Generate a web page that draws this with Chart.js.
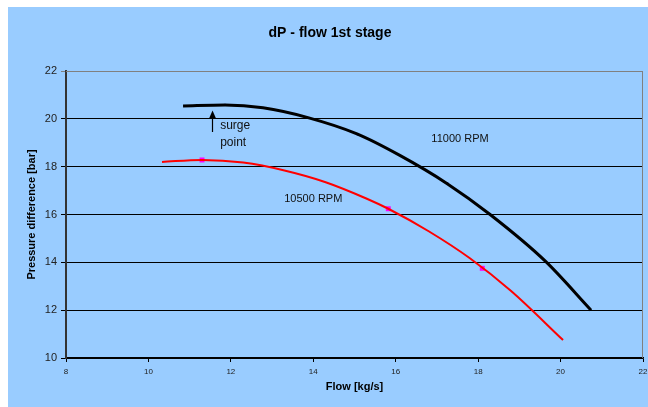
<!DOCTYPE html>
<html>
<head>
<meta charset="utf-8">
<script src="https://cdn.jsdelivr.net/npm/chart.js@4/dist/chart.umd.min.js"></script>
<style>
  html, body { margin: 0; padding: 0; background: #fff; overflow: hidden; }
  #wrap { width: 660px; height: 407px; }
</style>
</head>
<body>
<div id="wrap"><canvas id="chart" width="660" height="407"></canvas></div>
<script>
// данные
const flow11000 = [10.84, 11.86, 12.78, 13.87, 15.06, 16.1, 17.25, 18.29, 19.63, 20.74];
const dp11000 = [20.54, 20.58, 20.46, 20.05, 19.37, 18.47, 17.29, 16.0, 14.05, 12.0];
const markFlow11000 = [11.86, 15.08, 17.25];
const markDp11000 = [20.58, 19.35, 17.3];

const flow10500 = [10.33, 11.3, 12.3, 13.3, 14.3, 15.3, 15.82, 16.8, 17.8, 18.8, 20.06];
const dp10500 = [18.2, 18.28, 18.17, 17.84, 17.35, 16.66, 16.24, 15.3, 14.17, 12.8, 10.75];
const markFlow10500 = [11.3, 15.82, 18.1];
const markDp10500 = [18.28, 16.24, 13.75];

const xTicks = [8, 10, 12, 14, 16, 18, 20, 22];
const yTicks = [10, 12, 14, 16, 18, 20, 22];

const pts = (xs, ys) => xs.map((x, i) => ({ x: x, y: ys[i] }));
const FONT = '"Liberation Sans", Arial, sans-serif';

// фон, рамка, заголовок и подписи
const decor = {
  id: 'decor',
  beforeDraw(chart) {
    const c = chart.ctx;
    c.save();
    c.fillStyle = '#fff';
    c.fillRect(0, 0, chart.width, chart.height);
    c.fillStyle = '#99CCFF';
    c.fillRect(8, 7, chart.width - 8, chart.height - 7);
    c.restore();
  },
  afterDraw(chart) {
    const c = chart.ctx;
    const a = chart.chartArea;
    const sx = chart.scales.x, sy = chart.scales.y;
    c.save();
    c.strokeStyle = '#808080';
    c.lineWidth = 1;
    c.beginPath();
    c.moveTo(a.left, a.top + 0.5);
    c.lineTo(a.right - 0.5, a.top + 0.5);
    c.lineTo(a.right - 0.5, a.bottom);
    c.stroke();

    c.fillStyle = '#000';
    c.textAlign = 'center';
    c.textBaseline = 'middle';
    c.font = 'bold 14px ' + FONT;
    c.fillText('dP - flow 1st stage', 330, 33);

    c.fillStyle = '#111';
    c.font = '11px ' + FONT;
    c.fillText('11000 RPM', sx.getPixelForValue(17.56), sy.getPixelForValue(19.17));
    c.fillText('10500 RPM', sx.getPixelForValue(14.0), sy.getPixelForValue(16.63));
    c.textAlign = 'left';
    c.font = '12px ' + FONT;
    c.fillText('surge', sx.getPixelForValue(11.74), sy.getPixelForValue(19.71));
    c.fillText('point', sx.getPixelForValue(11.74), sy.getPixelForValue(19.0));

    // стрелка
    const ax = Math.round(sx.getPixelForValue(11.54)) + 0.5;
    const ay1 = sy.getPixelForValue(20.35);
    const ay2 = sy.getPixelForValue(19.45);
    c.strokeStyle = '#000';
    c.lineWidth = 1.2;
    c.beginPath();
    c.moveTo(ax, ay2);
    c.lineTo(ax, ay1 + 4);
    c.stroke();
    c.fillStyle = '#000';
    c.beginPath();
    c.moveTo(ax, ay1);
    c.lineTo(ax - 3.5, ay1 + 8);
    c.lineTo(ax + 3.5, ay1 + 8);
    c.closePath();
    c.fill();
    c.restore();
  }
};

const ctx = document.getElementById('chart').getContext('2d');
new Chart(ctx, {
  type: 'scatter',
  data: {
    datasets: [
      {
        label: '11000 RPM',
        data: pts(flow11000, dp11000),
        showLine: true,
        borderColor: '#000',
        borderWidth: 3,
        pointRadius: 0,
        cubicInterpolationMode: 'monotone'
      },
      {
        label: '10500 RPM',
        data: pts(flow10500, dp10500),
        showLine: true,
        borderColor: '#FF0000',
        borderWidth: 2,
        pointRadius: 0,
        cubicInterpolationMode: 'monotone'
      },
      {
        label: 'points 11000',
        data: pts(markFlow11000, markDp11000),
        pointStyle: 'rect',
        pointRadius: 1.5,
        backgroundColor: '#000080',
        borderColor: '#000080',
        borderWidth: 0
      },
      {
        label: 'points 10500',
        data: pts(markFlow10500, markDp10500),
        pointStyle: 'rect',
        pointRadius: 3.5,
        backgroundColor: '#FF00FF',
        borderColor: '#FF00FF',
        borderWidth: 0
      }
    ]
  },
  options: {
    responsive: false,
    animation: false,
    layout: { padding: { left: 0, right: 17, top: 71, bottom: 0 } },
    plugins: {
      legend: { display: false },
      tooltip: { enabled: false },
      title: { display: false }
    },
    scales: {
      x: {
        type: 'linear',
        min: 8,
        max: 22,
        afterBuildTicks: s => { s.ticks = xTicks.map(v => ({ value: v })); },
        afterFit: s => { s.height = 49; },
        ticks: { color: '#222', font: { family: FONT, size: 8 }, padding: 5, maxRotation: 0 },
        grid: { drawOnChartArea: false, drawTicks: true, tickLength: 4, color: '#000' },
        border: { color: '#000', width: 1.5 },
        title: {
          display: true,
          text: 'Flow [kg/s]',
          color: '#000',
          font: { family: FONT, size: 11, weight: 'bold' },
          padding: { top: 0, bottom: 13 }
        }
      },
      y: {
        type: 'linear',
        min: 10,
        max: 22,
        afterBuildTicks: s => { s.ticks = yTicks.map(v => ({ value: v })); },
        afterFit: s => { s.width = 66; },
        ticks: { color: '#222', font: { family: FONT, size: 11 }, padding: 4 },
        grid: {
          color: ctx => (ctx.tick && ctx.tick.value === 22 ? '#808080' : '#000'),
          lineWidth: 1,
          drawTicks: true,
          tickLength: 5
        },
        border: { color: '#333', width: 2 },
        title: {
          display: true,
          text: 'Pressure difference [bar]',
          color: '#000',
          font: { family: FONT, size: 11, weight: 'bold' },
          padding: { top: 25, bottom: 0 }
        }
      }
    }
  },
  plugins: [decor]
});
</script>
</body>
</html>
